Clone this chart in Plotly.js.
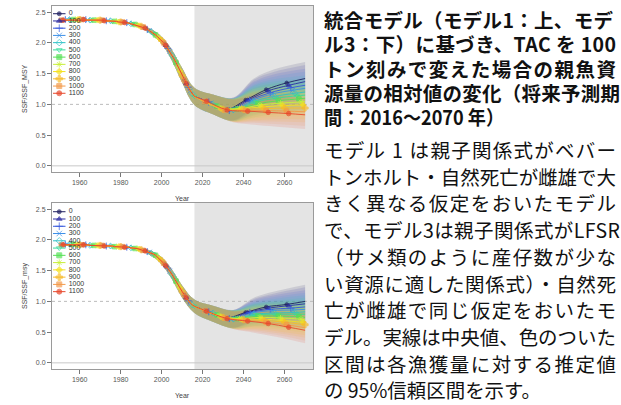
<!DOCTYPE html>
<html><head><meta charset="utf-8">
<script src="https://cdn.plot.ly/plotly-3.0.1.min.js"></script>
<style>html,body{margin:0;padding:0;background:#fff}#chart{width:621px;height:405px}</style>
</head><body><div id="chart"></div>
<script>
// ---------------- DATA ----------------
const TAC_LABELS = ['0','100','200','300','400','500','600','700','800','900','1000','1100'];
const COLORS = ['#1f1f60','#2b2ba3','#3556dc','#3b8fe8','#2ec2c6','#33dc9a','#55e055','#c9ef3a','#f5e11e','#f7bb2a','#f39a4a','#e8482c'];
const SYMBOLS = ['circle','triangle-up','cross-thin-open','x-thin-open','diamond-open','triangle-down-open','square','asterisk-open','diamond','cross','square','circle'];

const HIST_START = 1951, PROJ_START = 2016;
const HIST_YEARS = Array.from({length: 66}, (_, k) => HIST_START + k);

// Model 1 (top) historical SSF/SSF_MSY, 1951-2016
const HIST_M1 = [2.37,2.37,2.38,2.38,2.38,2.38,2.38,2.38,2.38,
  2.38,2.38,2.38,2.38,2.37,2.37,2.37,2.37,2.37,2.37,
  2.37,2.37,2.36,2.36,2.36,2.36,2.35,2.35,2.35,2.34,
  2.34,2.34,2.33,2.33,2.32,2.31,2.31,2.30,2.29,2.28,
  2.27,2.26,2.24,2.22,2.20,2.18,2.15,2.13,2.10,2.07,
  2.04,2.00,1.96,1.91,1.86,1.80,1.74,1.68,1.61,1.54,
  1.47,1.40,1.34,1.28,1.22,1.17,1.13];
// Model 3 (bottom) historical SSF/SSF_msy, 1951-2016
const HIST_M3 = [1.92,1.92,1.93,1.93,1.93,1.93,1.93,1.92,1.92,
  1.92,1.92,1.92,1.92,1.92,1.91,1.91,1.91,1.91,1.91,
  1.91,1.91,1.90,1.90,1.90,1.90,1.90,1.89,1.89,1.89,
  1.89,1.89,1.88,1.88,1.88,1.87,1.87,1.86,1.86,1.85,
  1.84,1.83,1.82,1.81,1.80,1.78,1.77,1.75,1.72,1.69,
  1.66,1.62,1.58,1.54,1.49,1.44,1.38,1.33,1.27,1.22,
  1.16,1.11,1.06,1.01,0.97,0.94,0.92];

// projection years read for each TAC series
const PROJ_YEARS = [
  [2016,2021,2031,2041,2051,2061,2070],
  [2016,2022,2032,2042,2052,2062,2070],
  [2016,2023,2033,2043,2053,2063,2070],
  [2016,2024,2034,2044,2054,2064,2070],
  [2016,2025,2035,2045,2055,2065,2070],
  [2016,2026,2036,2046,2056,2066,2070],
  [2016,2027,2037,2047,2057,2067,2070],
  [2016,2028,2038,2048,2058,2068,2070],
  [2016,2029,2039,2049,2059,2069,2070],
  [2016,2030,2040,2050,2060,2070],
  [2016,2021,2031,2041,2051,2061,2070],
  [2016,2022,2032,2042,2052,2062,2070]];
const PROJ_M1 = [
  [1.13,1.05,0.91,1.07,1.24,1.35,1.42],
  [1.13,1.05,0.91,1.07,1.22,1.31,1.37],
  [1.13,1.04,0.90,1.07,1.19,1.27,1.31],
  [1.13,1.02,0.90,1.06,1.17,1.23,1.26],
  [1.13,1.00,0.91,1.05,1.13,1.18,1.20],
  [1.13,0.99,0.92,1.04,1.10,1.14,1.15],
  [1.13,0.97,0.93,1.01,1.06,1.09,1.10],
  [1.13,0.95,0.93,0.99,1.02,1.04,1.05],
  [1.13,0.93,0.93,0.96,0.98,0.99,0.99],
  [1.13,0.92,0.92,0.93,0.94,0.94],
  [1.13,1.05,0.91,0.90,0.90,0.89,0.88],
  [1.13,1.05,0.91,0.89,0.87,0.85,0.83]];
const PROJ_M3 = [
  [0.92,0.85,0.73,0.82,0.91,0.95,1.00],
  [0.92,0.84,0.72,0.82,0.89,0.93,0.96],
  [0.92,0.83,0.72,0.82,0.87,0.89,0.91],
  [0.92,0.82,0.71,0.81,0.85,0.86,0.87],
  [0.92,0.81,0.71,0.79,0.81,0.82,0.83],
  [0.92,0.79,0.72,0.78,0.79,0.79,0.79],
  [0.92,0.78,0.72,0.76,0.76,0.75,0.74],
  [0.92,0.77,0.72,0.74,0.73,0.71,0.70],
  [0.92,0.75,0.71,0.71,0.69,0.66,0.66],
  [0.92,0.74,0.70,0.69,0.66,0.62],
  [0.92,0.85,0.73,0.69,0.66,0.62,0.57],
  [0.92,0.84,0.72,0.68,0.64,0.58,0.53]];

// 95% intervals
const BAND_HIST_YEARS = [1985,1990,1995,2000,2005,2010,2016];
const BAND_PROJ_YEARS = [2025,2035,2045,2055,2070];
const HB_UP_M1 = [2.33,2.30,2.22,2.10,1.89,1.59,1.27];
const HB_LO_M1 = [2.29,2.24,2.14,1.98,1.71,1.35,0.99];
const HB_UP_M3 = [1.89,1.87,1.82,1.72,1.52,1.26,1.03];
const HB_LO_M3 = [1.85,1.81,1.74,1.60,1.36,1.06,0.81];
const PB_UP_M1 = [
  [1.16,1.11,1.42,1.57,1.69],[1.16,1.11,1.40,1.53,1.64],[1.16,1.10,1.37,1.49,1.58],
  [1.16,1.10,1.35,1.45,1.53],[1.16,1.10,1.32,1.41,1.47],[1.16,1.10,1.30,1.37,1.42],
  [1.16,1.09,1.27,1.34,1.37],[1.16,1.09,1.25,1.30,1.32],[1.16,1.09,1.22,1.26,1.26],
  [1.16,1.09,1.20,1.22,1.21],[1.16,1.08,1.18,1.18,1.15],[1.16,1.08,1.15,1.14,1.10]];
const PB_LO_M1 = [
  [0.84,0.74,0.94,1.07,1.19],[0.84,0.74,0.92,1.03,1.14],[0.84,0.73,0.89,0.99,1.08],
  [0.84,0.73,0.87,0.95,1.03],[0.84,0.73,0.84,0.91,0.97],[0.84,0.73,0.82,0.87,0.92],
  [0.84,0.72,0.79,0.84,0.87],[0.84,0.72,0.77,0.80,0.82],[0.84,0.72,0.74,0.76,0.76],
  [0.84,0.72,0.72,0.72,0.71],[0.84,0.71,0.70,0.68,0.65],[0.84,0.71,0.67,0.64,0.60]];
const PB_UP_M3 = [
  [0.93,0.86,1.06,1.16,1.27],[0.93,0.86,1.04,1.13,1.23],[0.93,0.86,1.02,1.10,1.18],
  [0.93,0.86,1.00,1.07,1.14],[0.93,0.85,0.98,1.04,1.10],[0.93,0.85,0.96,1.01,1.06],
  [0.93,0.85,0.95,0.99,1.01],[0.93,0.85,0.93,0.96,0.97],[0.93,0.85,0.91,0.93,0.93],
  [0.93,0.84,0.89,0.90,0.89],[0.93,0.84,0.87,0.87,0.84],[0.93,0.84,0.85,0.84,0.80]];
const PB_LO_M3 = [
  [0.67,0.57,0.70,0.75,0.79],[0.67,0.57,0.68,0.72,0.75],[0.67,0.57,0.66,0.69,0.70],
  [0.67,0.57,0.64,0.66,0.66],[0.67,0.56,0.62,0.63,0.62],[0.67,0.56,0.60,0.60,0.58],
  [0.67,0.56,0.59,0.58,0.53],[0.67,0.56,0.57,0.55,0.49],[0.67,0.56,0.55,0.52,0.45],
  [0.67,0.55,0.53,0.49,0.41],[0.67,0.55,0.51,0.46,0.36],[0.67,0.55,0.49,0.43,0.32]];

const Y_TICKS = [0, 0.5, 1, 1.5, 2, 2.5];
const Y_TICKTEXT = ['0.0','0.5','1.0','1.5','2.0','2.5'];
const X_TICKS = [1960, 1980, 2000, 2020, 2040, 2060];

const TEXT_BOLD = [
  '統合モデル（モデル1：上、モデ',
  'ル3：下）に基づき、TAC を 100',
  'トン刻みで変えた場合の親魚資',
  '源量の相対値の変化（将来予測期',
  '間：2016～2070 年）'];
const TEXT_REG = [
  'モデル 1 は親子関係式がベバー',
  'トンホルト・自然死亡が雌雄で大',
  'きく異なる仮定をおいたモデル',
  'で、モデル3は親子関係式がLFSR',
  '（サメ類のように産仔数が少な',
  'い資源に適した関係式）・自然死',
  '亡が雌雄で同じ仮定をおいたモ',
  'デル。実線は中央値、色のついた',
  '区間は各漁獲量に対する推定値',
  'の 95%信頼区間を示す。'];

// ---------------- BUILD ----------------
const W = 621, H = 405;
const FONT = 'Liberation Sans, Arial, sans-serif';
function rgba(hex, a) {
  const n = parseInt(hex.slice(1), 16);
  return `rgba(${(n>>16)&255},${(n>>8)&255},${n&255},${a})`;
}
function isMarkerYear(year, i) { return ((year - HIST_START) % 10 + 10) % 10 === i % 10; }
function msize(i) { return i === 0 ? 3.5 : (SYMBOLS[i].indexOf('cross')>=0 || SYMBOLS[i].indexOf('x-')===0 || SYMBOLS[i].indexOf('asterisk')>=0 ? 5 : 4.5); }

const traces = [];
function addModel(xa, ya, HIST, PROJ, HBU, HBL, PBU, PBL) {
  const bx = BAND_HIST_YEARS.concat(BAND_PROJ_YEARS);
  for (let i = 0; i < 12; i++) {
    traces.push({x: bx, y: HBL.concat(PBL[i]), xaxis: xa, yaxis: ya, mode: 'lines',
      line: {width: 0, shape: 'spline', smoothing: 1}, hoverinfo: 'skip', showlegend: false});
    traces.push({x: bx, y: HBU.concat(PBU[i]), xaxis: xa, yaxis: ya, mode: 'lines', fill: 'tonexty',
      fillcolor: rgba(COLORS[i], 0.13), line: {width: 0, shape: 'spline', smoothing: 1},
      hoverinfo: 'skip', showlegend: false});
  }
  for (let i = 0; i < 12; i++) {
    const mk = (xs) => ({
      symbol: SYMBOLS[i], color: COLORS[i],
      size: xs.map(v => isMarkerYear(v, i) ? msize(i) : 0),
      line: {color: COLORS[i], width: 1}
    });
    traces.push({x: HIST_YEARS, y: HIST, xaxis: xa, yaxis: ya, mode: 'lines+markers',
      line: {color: COLORS[i], width: 1}, marker: mk(HIST_YEARS), showlegend: false, name: TAC_LABELS[i]});
    const px = PROJ_YEARS[i];
    traces.push({x: px, y: PROJ[i], xaxis: xa, yaxis: ya, mode: 'lines+markers',
      line: {color: COLORS[i], width: 0.9, shape: 'spline', smoothing: 1},
      marker: Object.assign(mk(px), {size: px.map((v, k) => (k > 0 && isMarkerYear(v, i)) ? msize(i) : 0)}),
      showlegend: false, name: TAC_LABELS[i]});
  }
}
addModel('x', 'y', HIST_M1, PROJ_M1, HB_UP_M1, HB_LO_M1, PB_UP_M1, PB_LO_M1);
addModel('x2', 'y2', HIST_M3, PROJ_M3, HB_UP_M3, HB_LO_M3, PB_UP_M3, PB_LO_M3);

function addLegend(xa, ya) {
  for (let i = 0; i < 12; i++) {
    traces.push({x: [0, 0.5, 1], y: [TAC_LABELS[i], TAC_LABELS[i], TAC_LABELS[i]], xaxis: xa, yaxis: ya,
      mode: 'lines+markers', line: {color: COLORS[i], width: 1},
      marker: {symbol: SYMBOLS[i], color: COLORS[i], size: [0, msize(i) + 0.5, 0], line: {color: COLORS[i], width: 1}},
      hoverinfo: 'skip', showlegend: false});
  }
  traces.push({x: TAC_LABELS.map(() => 1.25), y: TAC_LABELS, text: TAC_LABELS, xaxis: xa, yaxis: ya,
    mode: 'text', textposition: 'middle right', textfont: {family: FONT, size: 7, color: '#333'},
    hoverinfo: 'skip', showlegend: false, cliponaxis: false});
}
addLegend('x3', 'y3');
addLegend('x4', 'y4');

// pixel layout of the two panels
const PX_L = 52, PX_R = 313.3;
const TOP = [6, 172], BOT = [203, 369];
const xd = [PX_L / W, PX_R / W];
const yd = (p) => [(H - p[1]) / H, (H - p[0]) / H];
const XR = [1946.5, 2074], YR = [-0.1, 2.6];

function xAxis(anchor) {
  return {domain: xd, range: XR, anchor: anchor, tickvals: X_TICKS, ticks: 'outside', ticklen: 4,
    tickcolor: '#777', tickwidth: 1, showline: true, linecolor: '#9a9a9a', linewidth: 1, mirror: true,
    showgrid: false, zeroline: false, tickfont: {family: FONT, size: 7, color: '#555'}};
}
function yAxis(anchor, dom) {
  return {domain: dom, range: YR, anchor: anchor, tickvals: Y_TICKS, ticktext: Y_TICKTEXT, ticks: 'outside',
    ticklen: 4, tickcolor: '#777', tickwidth: 1, showline: true, linecolor: '#9a9a9a', linewidth: 1, mirror: true,
    showgrid: false, zeroline: false, tickfont: {family: FONT, size: 7, color: '#555'}};
}
const legX = (anchor) => ({domain: [53 / W, 140 / W], range: [0, 87 / 12.5], anchor: anchor, visible: false, fixedrange: true});
const legY = (anchor, p0, p1) => ({domain: [(H - p1) / H, (H - p0) / H], type: 'category', categoryarray: TAC_LABELS,
  range: [11.5, -0.5], anchor: anchor, visible: false, fixedrange: true});

const shapes = [];
[['x', 'y'], ['x2', 'y2']].forEach(([xa, ya]) => {
  shapes.push({type: 'rect', xref: xa, yref: ya + ' domain', x0: PROJ_START, x1: XR[1], y0: 0, y1: 1,
    fillcolor: '#e4e4e4', line: {width: 0}, layer: 'below'});
  shapes.push({type: 'line', xref: xa + ' domain', yref: ya, x0: 0, x1: 1, y0: 0, y1: 0,
    line: {color: '#c8c8c8', width: 1}, layer: 'below'});
  shapes.push({type: 'line', xref: xa + ' domain', yref: ya, x0: 0, x1: 1, y0: 1, y1: 1,
    line: {color: '#bbbbbb', width: 1, dash: 'dot'}, layer: 'below'});
});

const annotations = [];
const AX_FONT = {family: FONT, size: 7, color: '#444'};
const cx = (PX_L + PX_R) / 2 / W;
// axis titles
annotations.push({text: 'Year', xref: 'paper', yref: 'paper', x: cx, y: 1 - 198 / H, xanchor: 'center', yanchor: 'middle', showarrow: false, font: AX_FONT});
annotations.push({text: 'Year', xref: 'paper', yref: 'paper', x: cx, y: 1 - 395 / H, xanchor: 'center', yanchor: 'middle', showarrow: false, font: AX_FONT});
annotations.push({text: 'SSF/SSF_MSY', xref: 'paper', yref: 'paper', x: 25 / W, y: 1 - 89 / H, textangle: -90, xanchor: 'center', yanchor: 'middle', showarrow: false, font: AX_FONT});
annotations.push({text: 'SSF/SSF_msy', xref: 'paper', yref: 'paper', x: 25 / W, y: 1 - 286 / H, textangle: -90, xanchor: 'center', yanchor: 'middle', showarrow: false, font: AX_FONT});

// caption: two paragraphs, each one text block
const TX = 323 / W;
const JP = 'Noto Sans CJK JP, sans-serif';
const JP_SIZE = 19.5;
const PARAS = [
  {lines: TEXT_BOLD, bold: true, top: 4, gap: 24.25, widths: [289, 292, 292, 296, 180]},
  {lines: TEXT_REG, bold: false, top: 134, gap: 26.7, widths: [292, 292, 292, 296, 292, 292, 292, 292, 292, 217]}];
PARAS.forEach(p => annotations.push({
  text: p.lines.map(t => p.bold ? '<b>' + t + '</b>' : t).join('<br>'),
  xref: 'paper', yref: 'paper', x: TX, y: 1 - p.top / H, align: 'left', xanchor: 'left', yanchor: 'top',
  borderpad: 0, showarrow: false, font: {family: JP, size: JP_SIZE, color: '#111'}}));

const layout = {
  width: W, height: H, margin: {l: 0, r: 0, t: 0, b: 0}, paper_bgcolor: '#fff', plot_bgcolor: 'rgba(0,0,0,0)',
  showlegend: false,
  xaxis: xAxis('y'), yaxis: yAxis('x', yd(TOP)),
  xaxis2: xAxis('y2'), yaxis2: yAxis('x2', yd(BOT)),
  xaxis3: legX('y3'), yaxis3: legY('x3', 10.1, 96.9),
  xaxis4: legX('y4'), yaxis4: legY('x4', 208.1, 295.3),
  shapes: shapes, annotations: annotations
};
Plotly.newPlot('chart', traces, layout, {displayModeBar: false, staticPlot: true}).then(gd => {
  // set the printed leading and justify each caption line to the column width
  gd.querySelectorAll('text.annotation-text').forEach(el => {
    const lines = el.querySelectorAll('tspan.line');
    if (lines.length < 2) return;
    const p = PARAS.find(q => lines[0].textContent === q.lines[0]);
    if (!p) return;
    lines.forEach((ln, k) => {
      if (k > 0) ln.setAttribute('dy', (k * p.gap) + 'px');
      const nat = ln.getComputedTextLength();
      ln.setAttribute('textLength', p.widths[k]);
      ln.setAttribute('lengthAdjust', nat > p.widths[k] ? 'spacingAndGlyphs' : 'spacing');
    });
  });
});
</script>
</body></html>
